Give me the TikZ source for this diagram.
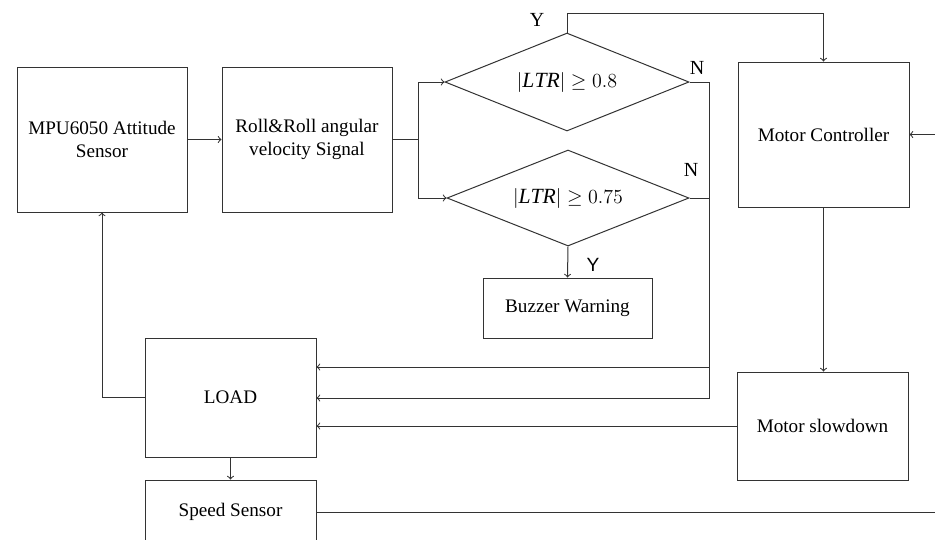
\documentclass[tikz,border=0pt]{standalone}
\usepackage{fontspec}
\setmainfont{Liberation Serif}
\setsansfont{Liberation Sans}
\usepackage{tikz}
\usetikzlibrary{shapes,arrows,positioning}

\begin{document}
\begin{tikzpicture}[x=0.6pt, y=-0.6pt, font=\rmfamily\fontsize{11.5}{13.8}\selectfont]
        \tikzstyle{block} = [rectangle, draw=black!80, line width=0.6pt, align=center, inner sep=0pt, minimum width=102pt]
        \tikzstyle{decision} = [diamond, aspect=2.5, draw=black!80, line width=0.6pt, inner sep=0pt, font=\fontsize{13}{15}\selectfont]
        \tikzstyle{line} = [draw=black!80, line width=0.6pt, -to]
        \tikzstyle{yn} = [inner sep=0pt, font=\rmfamily\fontsize{12}{14}\selectfont]

    \clip (0,0) rectangle (935,539);
    \fill[white] (0,0) rectangle (935,539);

    \node [block, minimum height=87pt] at (102,139.5) (mpu) {MPU6050 Attitude\\Sensor};
    \node [block, minimum height=87pt] at (307,139.5) (roll) {Roll\&Roll angular\\velocity Signal};

    \node [decision, minimum width=146.4pt, minimum height=58.8pt] at (567,82) (ltr8) {$\left|\mathit{LTR}\right|\geq 0.8$};
    \node [decision, minimum width=145.2pt, minimum height=57.6pt] at (568,198) (ltr75) {$\left|\mathit{LTR}\right|\geq 0.75$};
    \node [block, minimum width=101.4pt, minimum height=36pt] at (567.5,308) (buzzer) {Buzzer Warning};

    \node [block, minimum width=102.6pt, minimum height=87pt] at (823.5,134.5) (controller) {Motor Controller};
    \node [block, minimum width=102.6pt, minimum height=64.8pt] at (822.5,426) (slowdown) {Motor slowdown};

    \node [block, minimum width=102.6pt, minimum height=71.4pt] at (230.5,397.5) (load) {LOAD};
    \node [block, minimum width=102.6pt, minimum height=38.4pt] at (230.5,512) (speed) {Speed Sensor};

    \node [yn] at (537,20) (y8) {Y};
    \node [yn] at (697,68) (n8) {N};
    \node [yn] at (691,170) (n75) {N};
    \node [yn, font=\sffamily\fontsize{11.5}{14}\selectfont] at (593,265) (y75) {Y};

    \coordinate (split) at (418,139.5);
    \coordinate (top) at (567,13);
    \coordinate (nfirst) at (709,367);
    \coordinate (nsecond) at (709,398);
    \coordinate (speedout) at (940,512);
    \coordinate (controlin) at (940,134.5);

    \path [line] (mpu) -- (roll);
    \path [draw=black!80, line width=0.6pt] (roll.east) -- (split);
    \path [line] (split) |- (ltr8.west);
    \path [line] (split) |- (ltr75.west);
    \path [line] (ltr8.north) -- (top) -| (controller.north);
    \path [line] (ltr75.south) -- (buzzer.north);
    \path [line] (ltr8.east) -| (nfirst) -- (nfirst -| load.east);
    \path [line] (ltr75.east) -| (nsecond) -- (nsecond -| load.east);
    \path [line] (controller.south) -- (controller.south |- slowdown.north);
    \path [line] (slowdown.west) -- (slowdown.west -| load.east);
    \path [line] (load.west) -| (mpu.south);
    \path [line] (load.south) -- (speed.north);
    \path [draw=black!80, line width=0.6pt] (speed.east) -- (speedout);
    \path [line] (controlin) -- (controller.east);

\end{tikzpicture}
\end{document}
